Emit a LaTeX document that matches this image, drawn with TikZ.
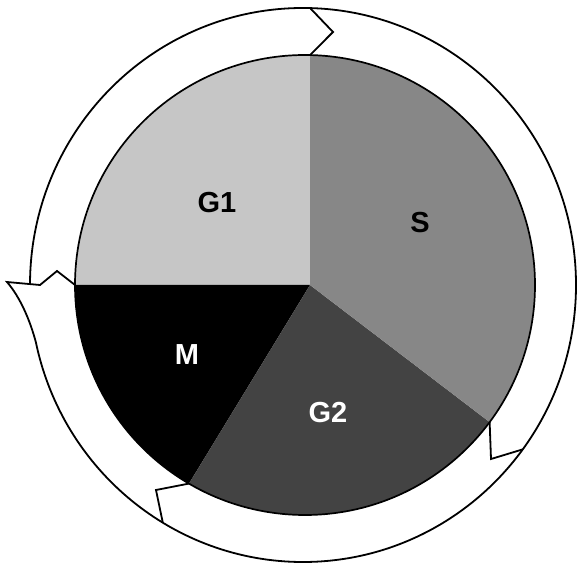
\documentclass[tikz,border=0pt]{standalone}
\usepackage{fontspec}
\setmainfont{Liberation Sans}
\usepackage{tikz}
\usetikzlibrary{calc}
\definecolor{phaseGa}{HTML}{C6C6C6}
\definecolor{phaseS}{HTML}{878787}
\definecolor{phaseGb}{HTML}{434343}

\begin{document}
\begin{tikzpicture}[x=1pt, y=1pt,
    rim/.style={draw, line width=1.7pt},
    ringline/.style={draw, line width=1.8pt, line join=miter},
    phase/.style={font=\fontsize{29}{31}\selectfont\bfseries, inner sep=0pt}
]
\useasboundingbox (0,0) rectangle (578,565);
\fill[white] (0,0) rectangle (578,565);

% pie of the cell cycle
\begin{scope}[shift={(305,280)}]
    \coordinate (apex) at (5,0);
    \coordinate (ti) at (88.75:230pt);
    \coordinate (li) at (180:230pt);
    \coordinate (bi) at (239.7:230pt);
    \coordinate (ri) at (323.4:230pt);
    \fill[phaseGa] (apex) -- (ti) arc[start angle=88.75, end angle=180, radius=230pt] -- cycle;
    \fill[black] (apex) -- (li) arc[start angle=180, end angle=239.7, radius=230pt] -- cycle;
    \fill[phaseGb] (apex) -- (bi) arc[start angle=239.7, end angle=323.4, radius=230pt] -- cycle;
    \fill[phaseS] (apex) -- (ri) arc[start angle=323.4, end angle=448.75, radius=230pt] -- cycle;
    \draw[rim] (0,0) circle[radius=230pt];
\end{scope}

% outer ring of arrows
\begin{scope}[shift={(303,280)}]
    \coordinate (to) at (88.5:273pt and 277pt);
    \coordinate (ol) at (180:273pt and 277pt);
    \coordinate (bo) at (239.1:273pt and 277pt);
    \coordinate (ro) at (-36.4:273pt and 277pt);
\end{scope}
\coordinate (tv) at (333,533);
\coordinate (rv) at (491,106);
\coordinate (bv) at (156,75);
\coordinate (lc) at (57,294);
\coordinate (lb) at (40,280);
\coordinate (la) at (7,283);

\draw[ringline] (ol) arc[start angle=180, end angle=-168, x radius=273pt, y radius=277pt]
    .. controls (30,245) and (20,268) .. (la) -- (lb) -- (lc) -- (li);
\draw[ringline] (to) -- (tv) -- (ti);
\draw[ringline] (ri) -- (rv) -- (ro);
\draw[ringline] (bi) -- (bv) -- (bo);

\node[phase, black] (g1) at (217,362) {G1};
\node[phase, black] (s) at (420,342) {S};
\node[phase, white] (m) at (187,210) {M};
\node[phase, white] (g2) at (328,152) {G2};
\end{tikzpicture}
\end{document}
